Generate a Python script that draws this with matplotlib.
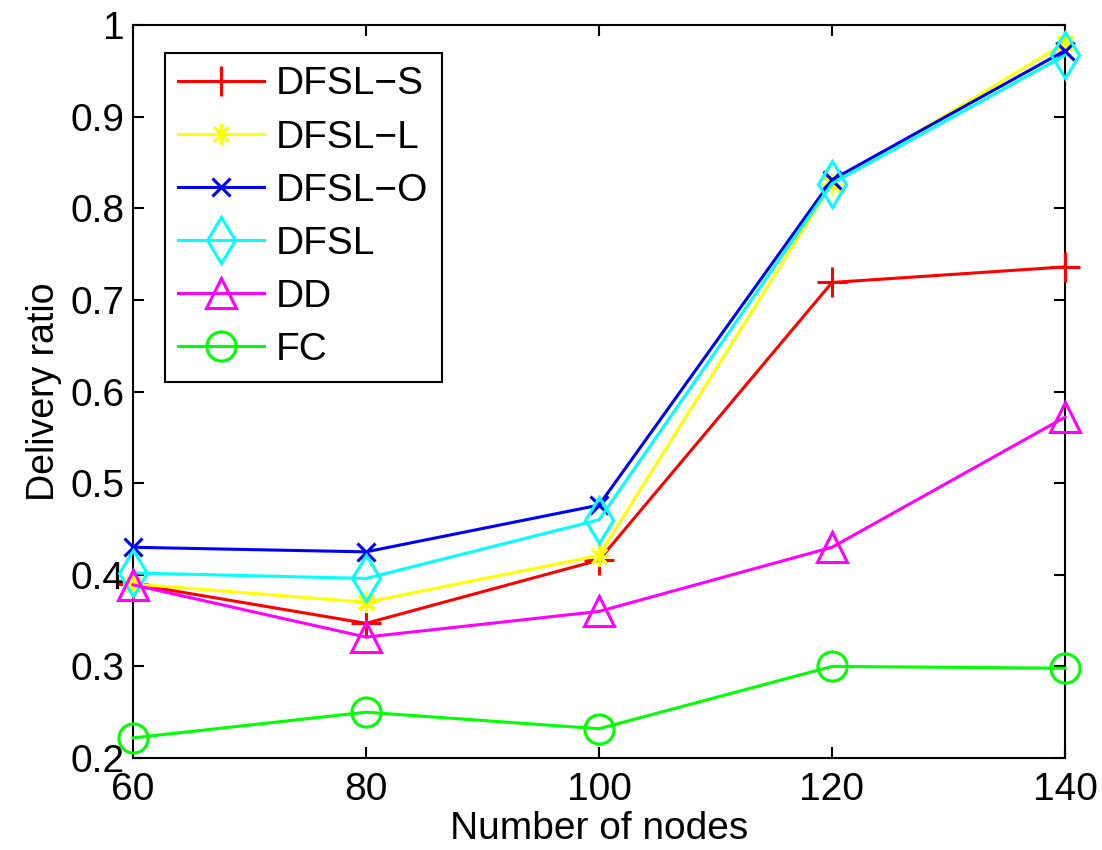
import matplotlib

matplotlib.use("Agg")
import matplotlib.pyplot as plt

plt.rcParams["font.family"] = ["Liberation Sans", "DejaVu Sans"]

nodes = [60, 80, 100, 120, 140]
dfsl_s = [0.390, 0.347, 0.416, 0.719, 0.736]
dfsl_l = [0.390, 0.370, 0.421, 0.827, 0.980]
dfsl_o = [0.430, 0.425, 0.476, 0.831, 0.972]
dfsl = [0.402, 0.396, 0.460, 0.827, 0.967]
dd = [0.389, 0.332, 0.360, 0.430, 0.572]
fc = [0.222, 0.250, 0.232, 0.300, 0.298]

# label, values, colour, marker, marker size (MATLAB-ish look)
series = [
    ("DFSL-S", dfsl_s, "#ff0000", "+", 22),
    ("DFSL-L", dfsl_l, "#ffff00", (8, 2, 0), 15),
    ("DFSL-O", dfsl_o, "#0000ff", "x", 13),
    ("DFSL", dfsl, "#00ffff", "d", 23),
    ("DD", dd, "#ff00ff", "^", 22),
    ("FC", fc, "#00ff00", "o", 21),
]

fig = plt.figure(figsize=(11.02, 8.5), dpi=100)
ax = fig.add_axes([0.1207, 0.1082, 0.8457, 0.8624])

for label, vals, color, marker, ms in series:
    ax.plot(
        nodes,
        vals,
        color=color,
        marker=marker,
        markersize=ms,
        markerfacecolor="none",
        markeredgecolor=color,
        markeredgewidth=2.2,
        linewidth=2.2,
        clip_on=False,
        zorder=3,
        label=label.replace("-", "\u2212"),
    )

ax.set_xlim(60, 140)
ax.set_ylim(0.2, 1.0)
ax.set_xticks([60, 80, 100, 120, 140])
ax.set_yticks([0.2, 0.3, 0.4, 0.5, 0.6, 0.7, 0.8, 0.9, 1.0])
ax.set_yticklabels(["0.2", "0.3", "0.4", "0.5", "0.6", "0.7", "0.8", "0.9", "1"])
ax.tick_params(direction="in", length=8, width=1.5, top=True, right=True,
               labelsize=28)
ax.tick_params(axis="x", pad=10)
ax.tick_params(axis="y", pad=6)
for s in ax.spines.values():
    s.set_linewidth(1.5)

ax.set_xlabel("Number of nodes", fontsize=28, labelpad=2)
ax.set_ylabel("Delivery ratio", fontsize=27, labelpad=6)

leg = ax.legend(loc="upper left", bbox_to_anchor=(0.034, 0.962), fontsize=28,
                handlelength=2.2, handletextpad=0.3, labelspacing=0.44,
                borderpad=0.35, borderaxespad=0, fancybox=False,
                edgecolor="black", framealpha=1)
leg.get_frame().set_linewidth(1.5)

fig.savefig("out.png", dpi=100)
